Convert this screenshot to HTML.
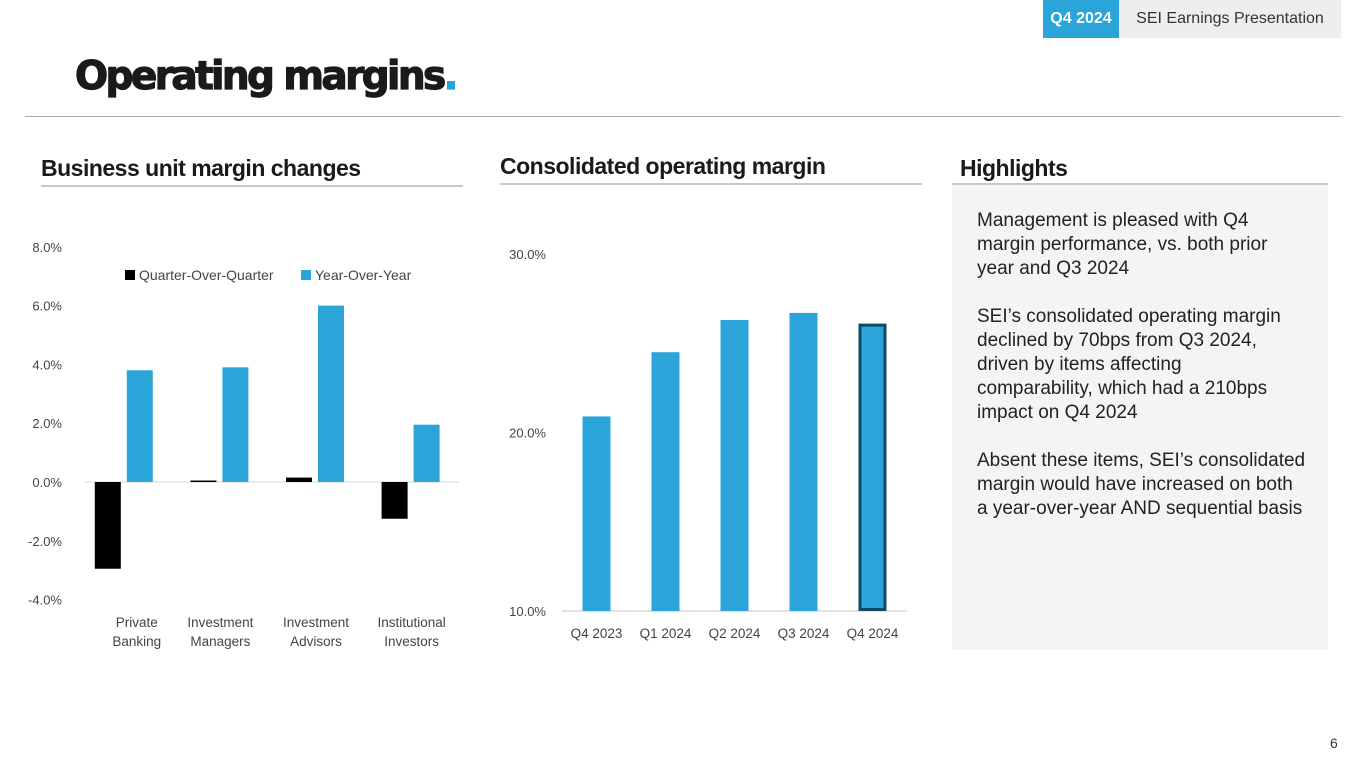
<!DOCTYPE html>
<html><head><meta charset="utf-8">
<style>
body{margin:0;width:1365px;height:768px;background:#fff;position:relative;overflow:hidden;font-family:"Liberation Sans",sans-serif;color:#222}
.abs{position:absolute}
.h2{font-weight:bold;font-size:23px;color:#1a1a1a;letter-spacing:-0.5px}
.ul{height:2px;background:#c8c8c8}
.hl p{margin:0 0 24px 0;white-space:nowrap}
</style></head><body>
<div class="abs" style="left:1043px;top:0;width:76px;height:38px;background:#2ba5d9;color:#fff;font-weight:bold;font-size:16px;line-height:38px;text-align:center">Q4 2024</div>
<div class="abs" style="left:1119px;top:0;width:222px;height:38px;background:#eeeeee;color:#333;font-size:16px;line-height:38px;text-align:center">SEI Earnings Presentation</div>
<div class="abs" style="left:75px;top:54px;font-family:'DejaVu Sans','Liberation Sans',sans-serif;font-weight:900;font-size:39px;color:#1a1a1a;letter-spacing:-2.6px;-webkit-text-stroke:1.2px #1a1a1a">Operating margins<span style="color:#2ba5d9;-webkit-text-stroke:1.2px #2ba5d9">.</span></div>
<div class="abs" style="left:25px;top:116px;width:1316px;height:1px;background:#aaa"></div>

<div class="abs h2" style="left:41px;top:155px">Business unit margin changes</div>
<div class="abs ul" style="left:41px;top:185px;width:422px"></div>
<div class="abs h2" style="left:500px;top:153px">Consolidated operating margin</div>
<div class="abs ul" style="left:500px;top:183px;width:422px"></div>
<div class="abs h2" style="left:960px;top:155px">Highlights</div>
<div class="abs ul" style="left:952px;top:183px;width:376px"></div>
<div class="abs hl" style="left:952px;top:185px;width:376px;height:465px;background:#f4f4f4;box-sizing:border-box;padding:24px 0 0 25px;font-size:19px;line-height:24px;color:#222">
<p>Management is pleased with Q4<br>margin performance, vs. both prior<br>year and Q3 2024</p>
<p>SEI’s consolidated operating margin<br>declined by 70bps from Q3 2024,<br>driven by items affecting<br>comparability, which had a 210bps<br>impact on Q4 2024</p>
<p>Absent these items, SEI’s consolidated<br>margin would have increased on both<br>a year-over-year AND sequential basis</p>
</div>
<div class="abs" style="left:1330px;top:735px;font-size:14px;color:#333">6</div>

<svg class="abs" style="left:0;top:0" width="1365" height="768" id="charts"></svg>
<script>
const buCats=["Private|Banking","Investment|Managers","Investment|Advisors","Institutional|Investors"];
const qoq=[-2.95,0.05,0.15,-1.25];
const yoy=[3.8,3.9,6.0,1.95];
const buTicks=[8,6,4,2,0,-2,-4];
const cCats=["Q4 2023","Q1 2024","Q2 2024","Q3 2024","Q4 2024"];
const cVals=[20.9,24.5,26.3,26.7,26.1];
const cTicks=[30,20,10];

const svg=document.getElementById('charts');const NS='http://www.w3.org/2000/svg';
function mk(t,a,txt){const e=document.createElementNS(NS,t);for(const k in a)e.setAttribute(k,a[k]);if(txt!==undefined)e.textContent=txt;svg.appendChild(e);return e;}
// left chart
const y1=v=>482-v*29.4;const x0=84,cw=95.6;
let g=mk('line',{x1:x0,x2:459,y1:y1(0),y2:y1(0),stroke:'#d9d9d9','stroke-width':1});

buTicks.forEach(t=>{const e=mk('text',{x:62,y:y1(t)+5,'text-anchor':'end','font-size':13,fill:'#444'},t.toFixed(1)+'%');
});
buCats.forEach((c,i)=>{const cx=x0+cw*(i+0.5)+5;const parts=c.split('|');
parts.forEach((p,j)=>{const e=mk('text',{x:cx-(i===0?0:12),y:627+j*19,'text-anchor':'middle','font-size':13.5,fill:'#444'},p);
});
const a=qoq[i];let r=mk('rect',{x:cx-42,y:Math.min(y1(a),y1(0)),width:26,height:Math.max(1.5,Math.abs(y1(a)-y1(0))),fill:'#000'});

const b=yoy[i];r=mk('rect',{x:cx-10,y:Math.min(y1(b),y1(0)),width:26,height:Math.abs(y1(b)-y1(0)),fill:'#2ba5d9'});
});
let l=mk('rect',{x:125,y:270,width:10,height:10,fill:'#000'});
l=mk('text',{x:139,y:280,'font-size':14,fill:'#444'},'Quarter-Over-Quarter');
l=mk('rect',{x:301,y:270,width:10,height:10,fill:'#2ba5d9'});
l=mk('text',{x:315,y:280,'font-size':14,fill:'#444'},'Year-Over-Year');
// right chart
const y2=v=>611-(v-10)*17.85;const cx0=562,ccw=69;
g=mk('line',{x1:cx0,x2:cx0+ccw*5,y1:y2(10),y2:y2(10),stroke:'#d9d9d9','stroke-width':1.5});

cTicks.forEach(t=>{const e=mk('text',{x:546,y:y2(t)+5,'text-anchor':'end','font-size':13,fill:'#444'},t.toFixed(1)+'%');
});
cCats.forEach((c,i)=>{const cx=cx0+ccw*(i+0.5);
const e=mk('text',{x:cx,y:638,'text-anchor':'middle','font-size':13.5,fill:'#444'},c);

const last=i===cCats.length-1;
const r=mk('rect',{x:cx-14+(last?1.5:0),y:y2(cVals[i])+(last?1.5:0),width:28-(last?3:0),height:y2(10)-y2(cVals[i])-(last?3:0),fill:'#2ba5d9',stroke:last?'#0d4a66':'none','stroke-width':last?3:0});
});
</script>
</body></html>
